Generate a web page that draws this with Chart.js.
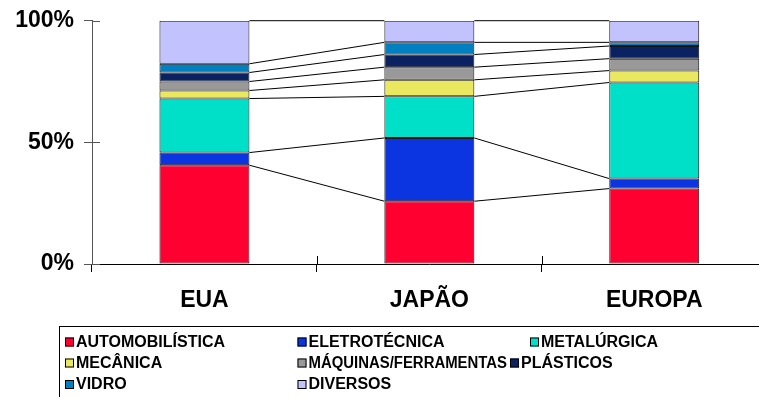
<!DOCTYPE html>
<html>
<head>
<meta charset="utf-8">
<script src="https://cdn.jsdelivr.net/npm/chart.js@4/dist/chart.umd.min.js"></script>
<style>
  html, body { margin: 0; padding: 0; background: #fff; overflow: hidden; width: 759px; height: 397px; }
  canvas { display: block; }
</style>
</head>
<body>
<canvas id="chart" width="800" height="397"></canvas>
<script>
// Regions compared
const regions = ['EUA', 'JAPÃO', 'EUROPA'];

// Sector shares (% of total) per region
const sectors = ['AUTOMOBILÍSTICA', 'ELETROTÉCNICA', 'METALÚRGICA', 'MECÂNICA',
                 'MÁQUINAS/FERRAMENTAS', 'PLÁSTICOS', 'VIDRO', 'DIVERSOS'];
const automobilistica = [40.6, 25.8, 31.0];
const eletrotecnica   = [5.2, 26.0, 4.1];
const metalurgica     = [22.2, 17.1, 39.5];
const mecanica        = [3.3, 6.8, 4.9];
const maquinas        = [3.7, 5.2, 4.9];
const plasticos       = [3.7, 5.2, 5.2];
const vidro           = [3.6, 5.0, 1.5];
const diversos        = [17.7, 8.9, 8.9];

// Value axis ticks
const yTicks = [0, 50, 100];

const seriesValues = [automobilistica, eletrotecnica, metalurgica, mecanica,
                      maquinas, plasticos, vidro, diversos];
const seriesColors = ['#FF0030', '#0A35E0', '#00E0C8', '#EAE85E',
                      '#999999', '#0A2262', '#0080C0', '#C2C2FF'];

const FONT = '"Liberation Sans", Arial, sans-serif';

// Lines joining the top of each segment across neighbouring columns
const seriesLines = {
  id: 'seriesLines',
  afterDatasetsDraw(chart) {
    const ctx = chart.ctx;
    ctx.save();
    ctx.strokeStyle = '#000';
    ctx.lineWidth = 1;
    chart.data.datasets.forEach((ds, d) => {
      const bars = chart.getDatasetMeta(d).data;
      for (let j = 0; j < bars.length - 1; j++) {
        const a = bars[j].getProps(['x', 'y', 'width'], true);
        const b = bars[j + 1].getProps(['x', 'y', 'width'], true);
        ctx.beginPath();
        ctx.moveTo(a.x + a.width / 2, a.y);
        ctx.lineTo(b.x - b.width / 2, b.y);
        ctx.stroke();
      }
    });
    ctx.restore();
  }
};

// Inner half of the cross-style tick marks
const crossTicks = {
  id: 'crossTicks',
  afterDraw(chart) {
    const ctx = chart.ctx;
    const xs = chart.scales.x, ys = chart.scales.y;
    const area = chart.chartArea;
    ctx.save();
    ctx.lineWidth = 1;
    ctx.strokeStyle = '#000';
    for (let i = 1; i <= regions.length; i++) {
      const px = Math.round(xs.getPixelForValue(i - 0.5)) + 0.5;
      ctx.beginPath();
      ctx.moveTo(px, area.bottom - 8);
      ctx.lineTo(px, area.bottom);
      ctx.stroke();
    }
    ctx.strokeStyle = '#555';
    yTicks.forEach(v => {
      const py = Math.round(ys.getPixelForValue(v)) + 0.5;
      ctx.beginPath();
      ctx.moveTo(area.left, py);
      ctx.lineTo(area.left + 8, py);
      ctx.stroke();
    });
    ctx.restore();
  }
};

// Framed legend laid out in three columns
const legendSlots = [
  [65, 337.5], [297.5, 337.5], [530, 337.5],
  [65, 358.5], [297.5, 358.5], [510, 358.5],
  [65, 380],   [297.5, 380]
];
const boxedLegend = {
  id: 'boxedLegend',
  afterDraw(chart) {
    const ctx = chart.ctx;
    ctx.save();
    ctx.strokeStyle = '#000';
    ctx.lineWidth = 1;
    ctx.strokeRect(59.5, 326.5, 800, 120);
    ctx.font = 'bold 16px ' + FONT;
    ctx.textBaseline = 'alphabetic';
    ctx.textAlign = 'left';
    chart.data.datasets.forEach((ds, i) => {
      const [x, y] = legendSlots[i];
      ctx.fillStyle = ds.backgroundColor;
      ctx.fillRect(x, y, 9, 9);
      ctx.strokeRect(x + 0.5, y + 0.5, 8, 8);
      ctx.fillStyle = '#000';
      // keep each label clear of the entry to its right
      const next = legendSlots[i + 1];
      const room = next && next[1] === y ? next[0] - (x + 11) - 3 : 300;
      ctx.fillText(ds.label, x + 11, y + 9, room);
    });
    ctx.restore();
  }
};

new Chart(document.getElementById('chart'), {
  type: 'bar',
  data: {
    labels: regions,
    datasets: sectors.map((name, i) => ({
      label: name,
      data: seriesValues[i],
      backgroundColor: seriesColors[i],
      borderColor: '#111',
      borderWidth: 1,
      borderSkipped: false,
      barPercentage: 0.4,
      categoryPercentage: 1.0
    }))
  },
  options: {
    responsive: false,
    animation: false,
    devicePixelRatio: 1,
    layout: { padding: { top: 20.7, right: 33.3, bottom: 0, left: 0 } },
    plugins: {
      legend: { display: false },
      tooltip: { enabled: false }
    },
    scales: {
      x: {
        stacked: true,
        afterFit(s) { s.height = 133; },
        grid: {
          display: true, drawOnChartArea: false, drawTicks: true,
          tickLength: 8, color: '#000', offset: true
        },
        border: { display: true, color: '#000', width: 1 },
        ticks: {
          padding: 15,
          color: '#000',
          font: { family: FONT, size: 23, weight: 'bold' }
        }
      },
      y: {
        stacked: true,
        min: 0,
        max: 100,
        afterFit(s) { s.width = 92; },
        afterBuildTicks(s) { s.ticks = yTicks.map(v => ({ value: v })); },
        grid: {
          display: true, drawOnChartArea: false, drawTicks: true,
          tickLength: 8, color: '#555'
        },
        border: { display: true, color: '#555', width: 1 },
        ticks: {
          padding: 10,
          color: '#000',
          font: { family: FONT, size: 23, weight: 'bold', lineHeight: 0.9 },
          callback: v => v + '%'
        }
      }
    }
  },
  plugins: [seriesLines, crossTicks, boxedLegend]
});
</script>
</body>
</html>
